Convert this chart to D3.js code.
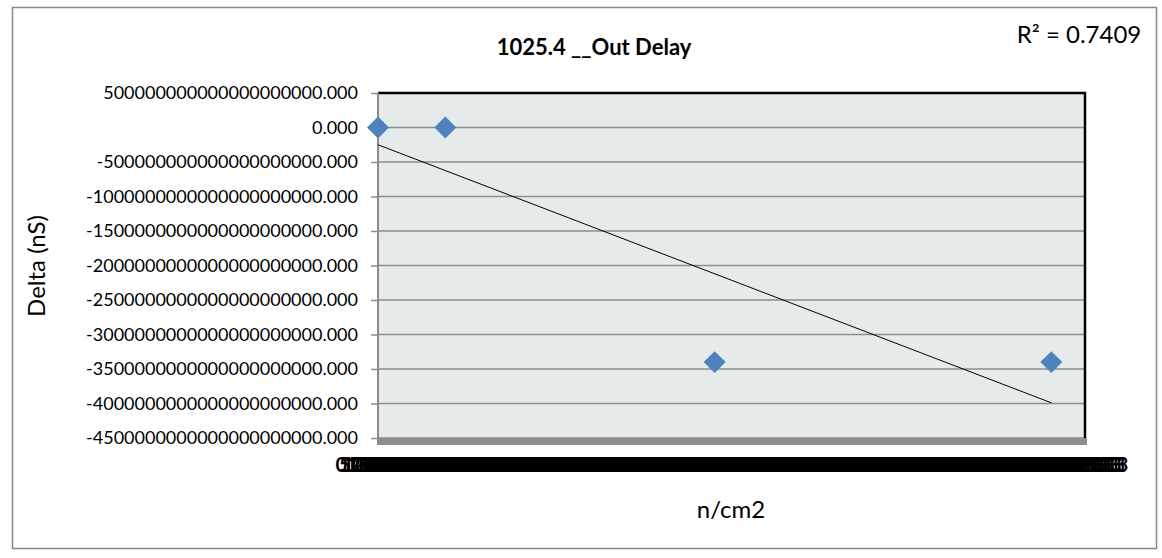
<!DOCTYPE html>
<html>
<head>
<meta charset="utf-8">
<script src="https://cdn.jsdelivr.net/npm/d3@7"></script>
<style>
  html, body { margin: 0; padding: 0; background: #fff; }
  svg { display: block; }
  text { font-family: Lato, "Liberation Sans", sans-serif; fill: #000; }
</style>
</head>
<body>
<svg id="chart" width="1162" height="558"></svg>
<script>
// ---- data ----
const pointX = [0, 1e12, 5e12, 1e13];              // n/cm2
const pointY = [0, 0, -3.4e21, -3.4e21];           // Delta (nS)
const trendX = [0, 1e13];
const trendY = [-0.25e21, -3.99e21];
const rSquaredText = "R\u00B2 = 0.7409";
const titleText = "1025.4 __Out Delay";
const yTitle = "Delta (nS)";
const xTitle = "n/cm2";
const yTickValues = [5e20, 0, -5e20, -1e21, -1.5e21, -2e21, -2.5e21, -3e21, -3.5e21, -4e21, -4.5e21];
const xDomain = [0, 1.05e13];
const xMajorUnit = 5e10;

// ---- layout ----
const svg = d3.select("#chart");
const L = 378, R = 1085, T = 93, B = 438;

const x = d3.scaleLinear().domain(xDomain).range([L, R]);
const y = d3.scaleLinear().domain([yTickValues[0], yTickValues[yTickValues.length - 1]]).range([T, B]);

function fmtY(v) {
  const big = BigInt(Math.round(v));
  return big.toString() + ".000";
}
function fmtX(v) {
  let s = v.toExponential(2).toUpperCase();
  const m = s.match(/^(-?[\d.]+)E([+-])(\d+)$/);
  if (m) s = m[1] + "E" + m[2] + m[3].padStart(2, "0");
  return s;
}

// outer border
svg.append("rect").attr("x", 12.5).attr("y", 7.5).attr("width", 1144).attr("height", 541)
  .attr("fill", "#fff").attr("stroke", "#888").attr("stroke-width", 1.5);

// back wall
svg.append("rect").attr("x", L).attr("y", T).attr("width", R - L).attr("height", B - T)
  .attr("fill", "#E5EBEB");

// floor
svg.append("rect").attr("x", L).attr("y", B).attr("width", R - L + 2).attr("height", 7)
  .attr("fill", "#8E8E8E");

// gridlines
svg.append("g").selectAll("line").data(yTickValues.slice(1)).join("line")
  .attr("x1", L).attr("x2", R).attr("y1", d => y(d)).attr("y2", d => y(d))
  .attr("stroke", "#8C8C8C").attr("stroke-width", 1.5);

// top & right border (black)
svg.append("path")
  .attr("d", `M${L},${T}H${R}V${B}`)
  .attr("fill", "none").attr("stroke", "#000").attr("stroke-width", 2.5);

// y axis
const yAxis = svg.append("g").attr("transform", `translate(${L},0)`)
  .call(d3.axisLeft(y).tickValues(yTickValues).tickFormat(fmtY).tickSize(7).tickPadding(13));
yAxis.select(".domain").remove();
yAxis.selectAll(".tick line").attr("stroke", "#8C8C8C").attr("stroke-width", 1.5)
  .attr("x1", -7).attr("x2", 0);
yAxis.selectAll(".tick text").attr("font-size", 18).attr("font-family", "Lato, 'Liberation Sans', sans-serif").attr("fill", "#000");
svg.append("line").attr("x1", L).attr("x2", L).attr("y1", T).attr("y2", B + 7)
  .attr("stroke", "#8C8C8C").attr("stroke-width", 2);

// x axis labels (overlapping, as in the reference)
const xTickValues = d3.range(xDomain[0], xDomain[1] + xMajorUnit / 2, xMajorUnit);
const xAxis = svg.append("g").attr("transform", `translate(0,${B + 7})`)
  .call(d3.axisBottom(x).tickValues(xTickValues).tickFormat(fmtX).tickSize(0).tickPadding(13));
xAxis.select(".domain").remove();
xAxis.selectAll(".tick text").attr("font-size", 20).attr("font-weight", "bold")
  .attr("font-family", "Lato, 'Liberation Sans', sans-serif").attr("fill", "#000");

// trendline
svg.append("line")
  .attr("x1", x(trendX[0])).attr("y1", y(trendY[0]))
  .attr("x2", x(trendX[1])).attr("y2", y(trendY[1]))
  .attr("stroke", "#000").attr("stroke-width", 1);

// points (diamonds)
const pts = pointX.map((v, i) => ({ x: v, y: pointY[i] }));
svg.append("g").selectAll("path").data(pts).join("path")
  .attr("d", d3.symbol(d3.symbolSquare, 240)())
  .attr("transform", d => `translate(${x(d.x)},${y(d.y)}) rotate(45)`)
  .attr("fill", "#4F81BD");

// title
svg.append("text").attr("x", 594).attr("y", 55).attr("text-anchor", "middle")
  .attr("font-size", 22).attr("font-weight", "bold").text(titleText);

// R squared
svg.append("text").attr("x", 1079).attr("y", 43).attr("text-anchor", "middle")
  .attr("font-size", 24).text(rSquaredText);

// axis titles
svg.append("text").attr("transform", "translate(45,266) rotate(-90)").attr("text-anchor", "middle")
  .attr("font-size", 24).text(yTitle);
svg.append("text").attr("x", 731).attr("y", 518).attr("text-anchor", "middle")
  .attr("font-size", 24).text(xTitle);
</script>
</body>
</html>
